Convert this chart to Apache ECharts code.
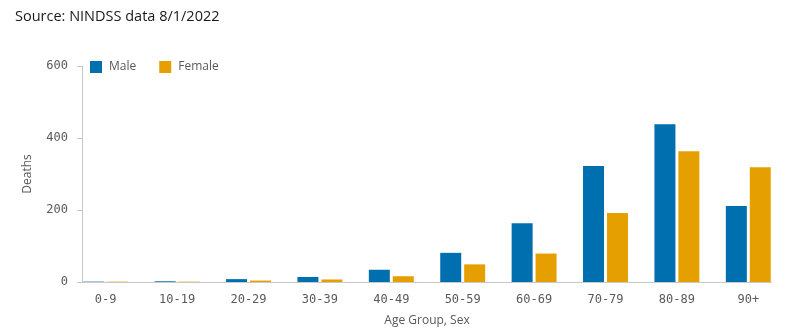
<!DOCTYPE html>
<html>
<head>
<meta charset="utf-8">
<script src="https://cdn.jsdelivr.net/npm/echarts@6/dist/echarts.min.js"></script>
<style>html,body{margin:0;padding:0;background:#fff;}#c{width:790px;height:332px;}</style>
</head>
<body>
<div id="c"></div>
<script>
var categories = ['0-9','10-19','20-29','30-39','40-49','50-59','60-69','70-79','80-89','90+'];
var maleValues = [1, 2, 8, 14, 34, 81, 163, 322, 438, 211];
var femaleValues = [1, 1, 4, 7, 16, 49, 79, 192, 363, 319];
var yTicks = [0, 200, 400, 600];

var chart = echarts.init(document.getElementById('c'), null, {renderer: 'canvas'});
var mono = '"DejaVu Sans Mono", monospace';
var sans = '"Open Sans", "Noto Sans", sans-serif';
chart.setOption({
  animation: false,
  title: {
    text: 'Source: NINDSS data 8/1/2022',
    left: 10, top: 4,
    textStyle: {fontFamily: sans, fontSize: 14.5, fontWeight: 'normal', color: '#1a1a1a'}
  },
  legend: {
    left: 85, top: 56,
    itemWidth: 12, itemHeight: 12, itemGap: 23,
    icon: 'rect',
    textStyle: {fontFamily: sans, fontSize: 12, color: '#595959', padding: [0,0,0,2]},
    data: ['Male', 'Female']
  },
  grid: {left: 70, right: 6, top: 66, bottom: 47, containLabel: false},
  xAxis: {
    type: 'category',
    data: categories,
    boundaryGap: true,
    name: 'Age Group, Sex',
    nameLocation: 'middle',
    nameGap: 33,
    nameTextStyle: {fontFamily: sans, fontSize: 12, color: '#595959'},
    axisLine: {show: false},
    axisTick: {show: false},
    axisLabel: {fontFamily: mono, fontSize: 12, color: '#595959', margin: 12}
  },
  yAxis: {
    type: 'value',
    min: yTicks[0], max: yTicks[yTicks.length - 1], interval: 200,
    offset: -12,
    name: 'Deaths',
    nameLocation: 'middle',
    nameGap: 48,
    nameTextStyle: {fontFamily: sans, fontSize: 12, color: '#595959'},
    axisLine: {show: true, lineStyle: {color: '#c8c8c8', width: 1}},
    axisTick: {show: true, length: 5, lineStyle: {color: '#c8c8c8'}},
    axisLabel: {fontFamily: mono, fontSize: 12, color: '#595959', margin: 14},
    splitLine: {show: false}
  },
  series: [
    {name: 'Male', type: 'bar', data: maleValues, barWidth: 21, barGap: '14%',
     itemStyle: {color: '#006fb0'}},
    {name: 'Female', type: 'bar', data: femaleValues, barWidth: 21, barGap: '14%',
     itemStyle: {color: '#e5a000'}}
  ]
});

// baseline along the x axis between the y-axis line and the last bar
var y0 = chart.convertToPixel({yAxisIndex: 0}, 0);
var xl = chart.convertToPixel({xAxisIndex: 0}, categories[0]);
var xr = chart.convertToPixel({xAxisIndex: 0}, categories[categories.length - 1]);
var half = 22.5;
chart.setOption({
  graphic: [{
    type: 'line', z: 10,
    shape: {x1: xl - half - 2, y1: Math.round(y0) + 0.5, x2: xr + half + 1, y2: Math.round(y0) + 0.5},
    style: {stroke: '#c8c8c8', lineWidth: 1}
  }]
});
</script>
</body>
</html>
